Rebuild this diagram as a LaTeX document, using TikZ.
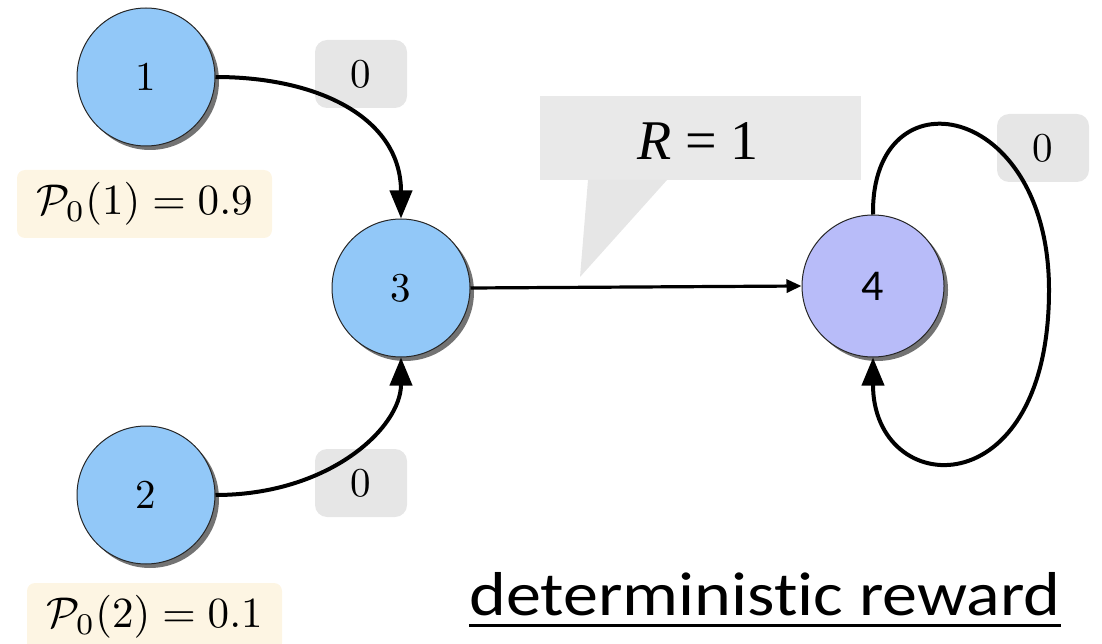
\documentclass[tikz,border=0pt]{standalone}
\usepackage{fontspec}
\usetikzlibrary{arrows.meta,shadows}
\newfontfamily\carl{Carlito}
\newfontfamily\carlw[Ligatures=NoCommon,FakeStretch=1.13]{Carlito}
\newfontfamily\libser{Liberation Serif}
\definecolor{nodeblue}{RGB}{146,200,248}
\definecolor{nodelav}{RGB}{184,188,249}
\definecolor{cream}{RGB}{253,245,227}
\definecolor{lblgray}{RGB}{230,230,230}
\definecolor{callgray}{RGB}{233,233,233}
\tikzset{
  st/.style={circle, draw=black!85, line width=1pt, minimum size=138pt, inner sep=0pt,
    fill=nodeblue, drop shadow={shadow xshift=4pt, shadow yshift=-4pt, fill=black, opacity=0.55}},
  rlab/.style={fill=lblgray, rounded corners=12pt, minimum width=92pt, minimum height=68pt,
    inner sep=0pt},
  prob/.style={fill=cream, rounded corners=8pt, minimum width=255pt, minimum height=68pt,
    inner sep=0pt},
  edge/.style={line width=4pt, -{Triangle[length=28pt,width=22pt]}},
}
\newcommand{\bigtxt}[1]{\scalebox{4.1}{#1}}
\begin{document}
\begin{tikzpicture}[x=1pt,y=-1pt]
\useasboundingbox (0,0) rectangle (1102,644);
% probability labels
\node[prob] (p1) at (144.5,204) {\scalebox{4.3}{$\mathcal{P}_0(1) = 0.9$}};
\node[prob] (p2) at (154.5,617) {\scalebox{4.3}{$\mathcal{P}_0(2) = 0.1$}};
% reward labels
\node[rlab] (r1) at (361,74) {\bigtxt{0}};
\node[rlab] (r2) at (361,483) {\bigtxt{0}};
\node[rlab] (r4) at (1043,148) {\bigtxt{0}};
% callout
\node[fill=callgray, minimum width=321pt, minimum height=84pt, inner sep=0pt] (cb) at (700.5,138) {};
\coordinate (tip) at (580,277);
\fill[lblgray] (588,180) -- (tip) -- (667,180) -- cycle;
\node[inner sep=0pt] (rt) at (698,141) {\libser\fontsize{56}{56}\selectfont\textit{R}\hspace{14pt}=\hspace{14pt}1};
% states
\node[st] (n1) at (146,77) {\bigtxt{1}};
\node[st] (n2) at (146,495) {\bigtxt{2}};
\node[st] (n3) at (401,288) {\bigtxt{3}};
\node[st, fill=nodelav, minimum size=142pt, font=\carl\fontsize{44}{44}\selectfont] (n4) at (873,286) {4};
% edges
\draw[edge] (n1.east) .. controls +(104,0) and +(0,-100) .. (n3.north);
\draw[edge] (n2.east) .. controls +(114,0) and +(0,70) .. (n3.south);
\draw[line width=3.2pt, -{Triangle[length=15pt,width=13pt]}] (n3.east) -- (n4.west);
\coordinate (lr) at (1049,290);
\draw[line width=4pt, -{Triangle[length=28pt,width=22pt]}]
  (n4.north) .. controls (871,70) and (1049,100) .. (lr)
  .. controls (1049,510) and (873,500) .. (n4.south);
% title
\node[font=\carlw\fontsize{62}{62}\selectfont, anchor=base, inner sep=0pt] (dr) at (765,615) {deterministic reward};
\draw[line width=3pt] ([yshift=-10pt]dr.base west) -- ([yshift=-10pt]dr.base east);
\end{tikzpicture}
\end{document}
